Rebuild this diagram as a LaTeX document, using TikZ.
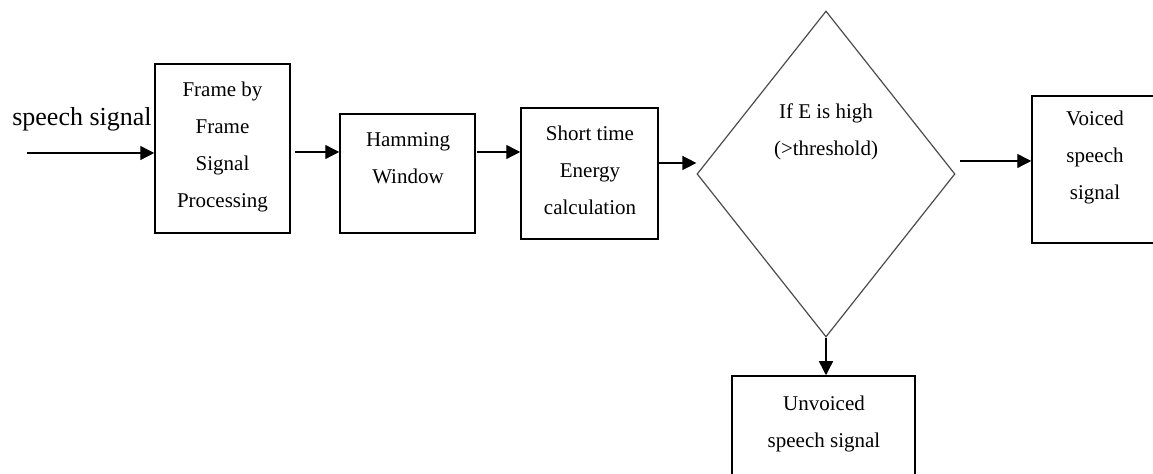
\documentclass[tikz,border=0pt]{standalone}
\usepackage{fontspec}
\setmainfont{Liberation Serif}
\usetikzlibrary{shapes.geometric,arrows.meta}
\begin{document}
\begin{tikzpicture}[x=0.5pt,y=-0.5pt,
  boxst/.style={draw=black,line width=0.75pt,rectangle,inner sep=0pt},
  txt/.style={align=center,inner sep=0pt,font=\fontsize{10.5}{18.5}\selectfont},
  arr/.style={line width=0.7pt,-{Triangle[length=7pt,width=7pt]}}]
\useasboundingbox (0,0) rectangle (1153,474);
\fill[white] (0,0) rectangle (1153,474);
% boxes
\node[boxst,minimum width=67.5pt,minimum height=84.5pt] (b1) at (222.5,148.5) {};
\node[boxst,minimum width=67.5pt,minimum height=59.5pt] (b2) at (407.5,173.5) {};
\node[boxst,minimum width=68.5pt,minimum height=65.5pt] (b3) at (589.5,173.5) {};
\node[diamond,draw=black!70,line width=0.6pt,inner sep=0pt,minimum width=129pt,minimum height=163pt] (d) at (826,174) {};
\node[boxst,minimum width=91.5pt,minimum height=52pt] (u) at (823.5,428) {};
\node[boxst,minimum width=64pt,minimum height=73.5pt] (v) at (1096,169.5) {};
% texts
\node[inner sep=0pt,anchor=base,font=\fontsize{13}{15}\selectfont] (t0) at (82,126) {speech signal};
\node[txt] (t1) at (222.5,147) {Frame by\\Frame\\Signal\\Processing};
\node[txt] (t2) at (408,158) {Hamming\\Window};
\node[txt] (t3) at (590,170.5) {Short time\\Energy\\calculation};
\node[txt] (t4) at (826,131.5) {If E is high\\(>threshold)};
\node[txt] (t5) at (1095,157) {Voiced\\speech\\signal};
\node[txt] (t6) at (824,423.5) {Unvoiced\\speech signal};
% connectors
\coordinate (c0) at (27,153);
\coordinate (c1) at (295,152);
\coordinate (c2) at (477,152);
\coordinate (c3) at (659,163);
\coordinate (c5) at (960,161);
\draw[arr] (c0) -- (c0 -| b1.west);
\draw[arr] (c1) -- (c1 -| b2.west);
\draw[arr] (c2) -- (c2 -| b3.west);
\draw[arr] (c3) -- (c3 -| d.west);
\draw[arr] (d.south) -- (d.south |- u.north);
\draw[arr] (c5) -- (c5 -| v.west);
\end{tikzpicture}
\end{document}
